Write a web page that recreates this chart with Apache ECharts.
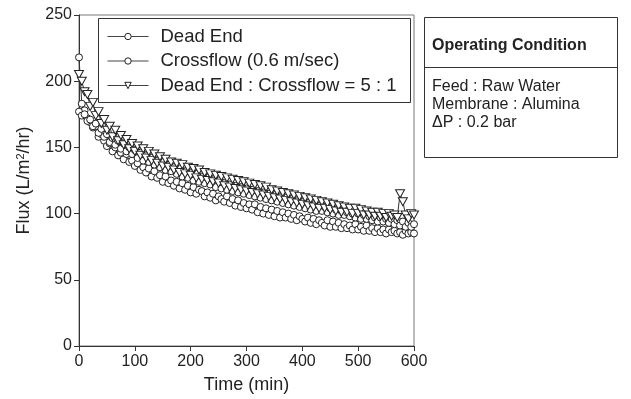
<!DOCTYPE html>
<html><head><meta charset="utf-8">
<script src="https://cdn.jsdelivr.net/npm/echarts@6/dist/echarts.min.js"></script>
<style>html,body{margin:0;padding:0;background:#fff}#c{width:631px;height:399px}</style>
</head><body><div id="c"></div>
<script>
const seriesNames = ['Dead End', 'Crossflow (0.6 m/sec)', 'Dead End : Crossflow = 5 : 1'];
const timeMin = [];
for (let t = 0; t <= 600; t += 5) timeMin.push(t);
const deadEnd = [218,183,178,172,169,165,166,158,160,155,151,153,
 147,150,144,146,141,145,139,140,136,138,133,135,
 131,134,128,132,127,129,124,128,123,125,121,124,
 119,123,118,121,116,120,115,118,117,113,116,112,
 115,110,113,111,109,113,108,111,106,110,105,108,
 104,107,103,107,101,105,100,104,99,103,98,102,
 97,101,97,100,96,99,95,98,96,94,97,93,
 96,92,95,93,91,95,90,94,90,93,89,92,
 89,91,88,92,88,90,87,91,87,89,86,89,
 86,88,85,88,86,87,85,86,84,87,85,86,
 85];
const crossflow = [177,174,175,170,171,166,168,161,164,158,160,154,
 157,152,155,149,153,147,150,145,148,142,146,140,
 144,139,142,137,140,135,139,133,137,132,135,130,
 134,128,132,127,131,125,130,124,128,123,127,122,
 126,120,125,119,123,118,122,117,121,116,120,115,
 119,114,118,113,117,112,116,111,115,110,114,109,
 113,108,112,107,111,106,110,105,109,104,108,103,
 107,102,106,102,105,101,104,100,103,99,102,99,
 101,98,100,97,100,96,99,96,98,95,97,94,
 97,94,96,93,96,92,95,91,94,90,93,90,
 92];
const mixed = [205,200,192,190,181,184,174,177,168,171,163,166,
 158,163,155,159,152,156,149,153,147,151,144,149,
 142,147,140,145,138,143,136,141,135,139,133,138,
 131,137,130,135,129,134,127,133,126,131,125,130,
 124,129,123,128,121,127,120,126,119,125,118,124,
 117,123,116,122,115,121,114,120,113,118,112,117,
 111,116,110,115,109,114,108,113,107,112,106,111,
 105,110,104,109,104,108,103,107,102,106,101,105,
 101,104,100,104,100,103,99,102,99,101,98,101,
 98,100,97,100,98,99,97,115,109,99,96,100,
 99];
const conditionTitle = 'Operating Condition';
const conditionLines = ['Feed : Raw Water', 'Membrane : Alumina', '\u0394P : 0.2 bar'];

const FONT = '"Liberation Sans", Arial, sans-serif';
const pair = (ys) => timeMin.map((t, i) => [t, ys[i]]);
const triDown = 'path://M0,0 L10,0 L5,9 Z';
function mk(name, ys, sym, size) {
  return {
    name, type: 'line', data: pair(ys), symbol: sym, symbolSize: size,
    showSymbol: true, animation: false,
    lineStyle: { color: '#333', width: 1 },
    itemStyle: { color: '#fff', borderColor: '#222', borderWidth: 1 }
  };
}
const chart = echarts.init(document.getElementById('c'));
chart.setOption({
  animation: false,
  backgroundColor: '#fff',
  grid: { left: 79, right: 217, top: 15, bottom: 48, show: true, borderColor: '#777', borderWidth: 1 },
  xAxis: {
    type: 'value', min: 0, max: 600, interval: 100,
    name: 'Time (min)', nameLocation: 'middle', nameGap: 30,
    nameTextStyle: { fontFamily: FONT, fontSize: 18, color: '#222' },
    axisLine: { lineStyle: { color: '#333' } },
    axisTick: { inside: false, length: 5, lineStyle: { color: '#333' } },
    axisLabel: { fontFamily: FONT, fontSize: 16, color: '#222', margin: 8 },
    splitLine: { show: false }
  },
  yAxis: {
    type: 'value', min: 0, max: 250, interval: 50,
    name: 'Flux (L/m{s|2}/hr)', nameLocation: 'middle', nameGap: 44,
    nameTextStyle: {
      fontFamily: FONT, fontSize: 18, color: '#222',
      rich: {
        s: { fontFamily: FONT, fontSize: 11, color: '#222', verticalAlign: 'top', lineHeight: 18, padding: [0, 0, 8, 0] }
      }
    },
    axisLine: { show: true, lineStyle: { color: '#333' } },
    axisTick: { show: true, inside: false, length: 5, lineStyle: { color: '#333' } },
    axisLabel: { fontFamily: FONT, fontSize: 16, color: '#222', margin: 7 },
    splitLine: { show: false }
  },
  legend: {
    orient: 'vertical', left: 102, top: 22,
    itemWidth: 41, itemHeight: 8, itemGap: 5.5,
    lineStyle: { width: 1, color: '#444' },
    itemStyle: { borderWidth: 1 },
    textStyle: { fontFamily: FONT, fontSize: 18.5, color: '#222', padding: [0, 0, 0, 7] },
    data: seriesNames
  },
  graphic: [
    { type: 'rect', shape: { x: 98.5, y: 18.5, width: 312, height: 84 }, style: { fill: 'none', stroke: '#333', lineWidth: 1 }, z: 10 },
    { type: 'rect', shape: { x: 424.5, y: 17.5, width: 193, height: 140 }, style: { fill: '#fff', stroke: '#333', lineWidth: 1 }, z: 10 },
    { type: 'line', shape: { x1: 424.5, y1: 67.5, x2: 617.5, y2: 67.5 }, style: { stroke: '#333', lineWidth: 1 }, z: 11 },
    { type: 'text', x: 432, y: 46, style: { text: conditionTitle, font: 'bold 16px ' + FONT, fill: '#222', textVerticalAlign: 'middle' }, z: 11 },
    { type: 'text', x: 432, y: 87, style: { text: conditionLines[0], font: '16px ' + FONT, fill: '#222', textVerticalAlign: 'middle' }, z: 11 },
    { type: 'text', x: 432, y: 105, style: { text: conditionLines[1], font: '16px ' + FONT, fill: '#222', textVerticalAlign: 'middle' }, z: 11 },
    { type: 'text', x: 432, y: 123, style: { text: conditionLines[2], font: '16px ' + FONT, fill: '#222', textVerticalAlign: 'middle' }, z: 11 }
  ],
  series: [
    mk(seriesNames[0], deadEnd, 'circle', 7),
    mk(seriesNames[1], crossflow, 'circle', 7),
    mk(seriesNames[2], mixed, triDown, [9, 8])
  ]
});
</script></body></html>
